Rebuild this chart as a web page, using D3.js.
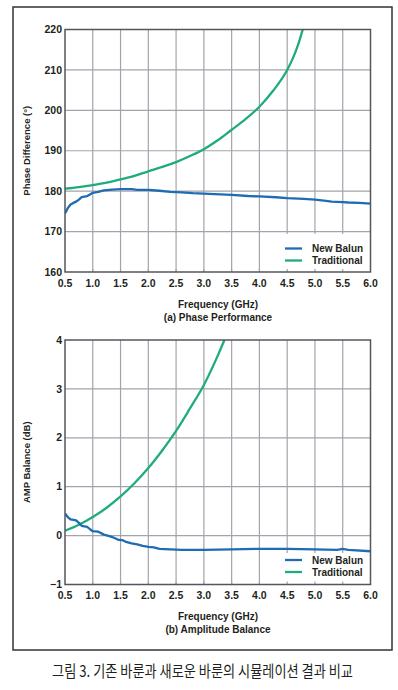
<!DOCTYPE html>
<html>
  <head>
    <meta charset="utf-8" />
    <title>balun</title>
    <script src="https://cdn.jsdelivr.net/npm/d3@7"></script>
    <style type="text/css">
      body { margin: 0; background: #fff; }
      svg text { font-family: "Liberation Sans", Arial, sans-serif; font-weight: bold; fill: #231f20; }
    </style>
  </head>
  <body>
    <svg id="fig" width="398" height="690"></svg>
    <script type="text/javascript">
      // frequency ticks (GHz)
      var freqTicks = [0.5, 1.0, 1.5, 2.0, 2.5, 3.0, 3.5, 4.0, 4.5, 5.0, 5.5, 6.0];
      var seriesNames = ['New Balun', 'Traditional'];

      // (a) phase difference, [GHz, deg]
      var phaseNew = [
        [0.5, 174.5], [0.55, 175.8], [0.6, 176.7], [0.65, 177.1], [0.7, 177.4], [0.75, 177.9],
        [0.8, 178.5], [0.9, 178.8], [0.95, 179.2], [1.0, 179.6], [1.1, 179.8], [1.2, 180.2],
        [1.35, 180.4], [1.5, 180.5], [1.7, 180.5], [1.8, 180.3], [2.0, 180.3], [2.2, 180.1],
        [2.4, 179.8], [2.6, 179.7], [2.8, 179.5], [3.0, 179.4], [3.3, 179.2], [3.5, 179.1],
        [3.8, 178.8], [4.0, 178.7], [4.3, 178.5], [4.5, 178.3], [4.8, 178.1], [5.0, 177.9],
        [5.2, 177.6], [5.3, 177.4], [5.5, 177.3], [5.6, 177.2], [5.8, 177.1], [6.0, 176.9]
      ];
      var phaseOld = [
        [0.5, 180.6], [0.75, 181.0], [1.0, 181.5], [1.25, 182.1], [1.5, 182.9], [1.75, 183.8],
        [2.0, 184.9], [2.25, 186.0], [2.5, 187.2], [2.75, 188.7], [3.0, 190.4], [3.25, 192.6],
        [3.5, 195.2], [3.75, 197.8], [4.0, 200.9], [4.25, 204.9], [4.5, 210.0], [4.6, 212.8],
        [4.7, 216.4], [4.78, 220.0]
      ];
      var phaseTicks = [160, 170, 180, 190, 200, 210, 220];

      // (b) amplitude balance, [GHz, dB]
      var ampNew = [
        [0.5, 0.45], [0.55, 0.38], [0.6, 0.33], [0.7, 0.31], [0.75, 0.26], [0.8, 0.2],
        [0.9, 0.18], [0.95, 0.13], [1.0, 0.09], [1.1, 0.08], [1.2, 0.02], [1.3, -0.01],
        [1.35, -0.03], [1.45, -0.08], [1.55, -0.1], [1.6, -0.13], [1.7, -0.16], [1.8, -0.18],
        [1.9, -0.21], [2.0, -0.23], [2.1, -0.24], [2.2, -0.27], [2.4, -0.28], [2.6, -0.29],
        [3.0, -0.29], [3.5, -0.28], [4.0, -0.27], [4.5, -0.27], [5.0, -0.28], [5.4, -0.29],
        [5.5, -0.27], [5.6, -0.29], [6.0, -0.32]
      ];
      var ampOld = [
        [0.5, 0.1], [0.75, 0.22], [1.0, 0.38], [1.25, 0.57], [1.5, 0.8], [1.75, 1.07],
        [2.0, 1.38], [2.25, 1.74], [2.5, 2.14], [2.75, 2.6], [3.0, 3.08], [3.25, 3.68],
        [3.37, 4.0]
      ];
      var ampTicks = [-1, 0, 1, 2, 3, 4];

      var blue = '#1f6cb4', green = '#1fac7d';
      var svg = d3.select('#fig');

      // outer frame
      svg.append('rect').attr('x', 13).attr('y', 7).attr('width', 379).attr('height', 643)
        .attr('fill', 'none').attr('stroke', '#333').attr('stroke-width', 1.5);

      function panel(o) {
        var x = d3.scaleLinear().domain([0.5, 6]).range([65, 370.5]);
        var y = d3.scaleLinear().domain(o.domain).range([o.bottom, o.top]);
        var g = svg.append('g');

        // grid
        g.append('g').selectAll('line').data(freqTicks.slice(1, -1)).join('line')
          .attr('x1', x).attr('x2', x).attr('y1', o.top).attr('y2', o.bottom)
          .attr('stroke', '#a3a3ad').attr('stroke-width', 1.2);
        g.append('g').selectAll('line').data(o.ticks.slice(1, -1)).join('line')
          .attr('y1', y).attr('y2', y).attr('x1', 65).attr('x2', 370.5)
          .attr('stroke', '#a3a3ad').attr('stroke-width', 1.2);

        // legend box hides the grid behind it
        g.append('rect').attr('x', 280).attr('y', o.boxTop).attr('width', 90).attr('height', o.bottom - o.boxTop)
          .attr('fill', '#fff');
        // small inward ticks along the bottom
        g.append('g').selectAll('line').data(freqTicks.slice(1, -1)).join('line')
          .attr('x1', x).attr('x2', x).attr('y1', o.bottom - 3).attr('y2', o.bottom)
          .attr('stroke', '#a3a3ad').attr('stroke-width', 1.2);

        // curves, clipped to the plot
        var clipId = 'clip' + o.id;
        svg.append('clipPath').attr('id', clipId).append('rect')
          .attr('x', 65).attr('y', o.top).attr('width', 305.5).attr('height', o.bottom - o.top);
        var line = d3.line().x((d) => x(d[0])).y((d) => y(d[1]));
        g.append('path').datum(o.oldData).attr('clip-path', 'url(#' + clipId + ')')
          .attr('d', line.curve(d3.curveMonotoneX)).attr('fill', 'none')
          .attr('stroke', green).attr('stroke-width', 2.3);
        g.append('path').datum(o.newData).attr('clip-path', 'url(#' + clipId + ')')
          .attr('d', line.curve(d3.curveLinear)).attr('fill', 'none')
          .attr('stroke', blue).attr('stroke-width', 2.3).attr('stroke-linejoin', 'round');

        var leg = g.selectAll('.leg').data(seriesNames).join('g')
          .attr('transform', (d, i) => 'translate(285,' + (o.legY + i * 12) + ')');
        leg.append('line').attr('x1', 0).attr('x2', 17).attr('stroke-width', 2.3)
          .attr('stroke', (d, i) => (i ? green : blue));
        leg.append('text').attr('x', 27).attr('dy', '0.35em').attr('font-size', 10).text((d) => d);

        // frame
        g.append('rect').attr('x', 65).attr('y', o.top).attr('width', 305.5).attr('height', o.bottom - o.top)
          .attr('fill', 'none').attr('stroke', '#55555d').attr('stroke-width', 1.5);

        // tick labels
        g.append('g').selectAll('text').data(freqTicks).join('text')
          .attr('x', x).attr('y', o.bottom + 11).attr('dy', '0.35em').attr('text-anchor', 'middle')
          .attr('font-size', 10.5).text((d) => d.toFixed(1));
        g.append('g').selectAll('text').data(o.ticks).join('text')
          .attr('x', 62).attr('y', y).attr('dy', '0.35em').attr('text-anchor', 'end')
          .attr('font-size', 10.5).text((d) => (d < 0 ? '\u2212' + Math.abs(d) : d));

        // titles
        g.append('text').attr('x', 218).attr('y', o.bottom + 32).attr('dy', '0.35em')
          .attr('text-anchor', 'middle').attr('font-size', 10).text('Frequency (GHz)');
        g.append('text').attr('x', 218).attr('y', o.bottom + 45).attr('dy', '0.35em')
          .attr('text-anchor', 'middle').attr('font-size', 10).text(o.caption);
        g.append('text').attr('transform', 'translate(27,' + (o.top + o.bottom) / 2 + ') rotate(-90)')
          .attr('dy', '0.35em').attr('text-anchor', 'middle').attr('font-size', 9.5).text(o.yLabel);
      }

      panel({ id: 'a', domain: [160, 220], top: 29.5, bottom: 272, ticks: phaseTicks,
        newData: phaseNew, oldData: phaseOld, legY: 248.5, boxTop: 234,
        yLabel: 'Phase Difference (\u00b0)', caption: '(a) Phase Performance' });
      panel({ id: 'b', domain: [-1, 4], top: 340, bottom: 584.5, ticks: ampTicks,
        newData: ampNew, oldData: ampOld, legY: 560, boxTop: 553,
        yLabel: 'AMP Balance (dB)', caption: '(b) Amplitude Balance' });

      // figure caption, squeezed to the reference width
      var cap = svg.append('text').attr('y', 0).attr('dy', '0.35em').attr('text-anchor', 'middle')
        .style('font-family', '"Noto Sans CJK KR", sans-serif').style('font-weight', 'normal')
        .attr('font-size', 16).attr('fill', '#222')
        .text('그림 3. 기존 바룬과 새로운 바룬의 시뮬레이션 결과 비교');
      var w = cap.node().getComputedTextLength();
      cap.attr('transform', 'translate(202.5,671.5) scale(' + 301 / w + ',1)');
    </script>
  </body>
</html>
